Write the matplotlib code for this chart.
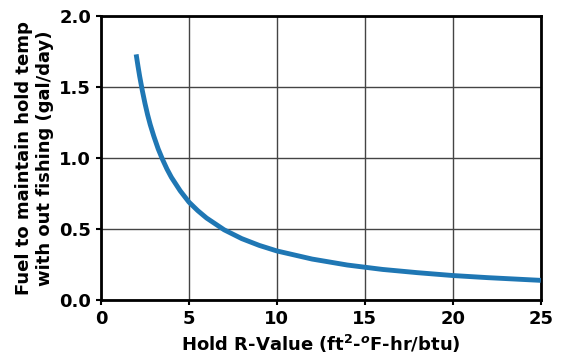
import matplotlib.pyplot as plt

# values
r_value = [2.0, 2.1, 2.2, 2.35, 2.5, 2.65, 2.8, 3.0, 3.25, 3.5, 3.75, 4.0, 4.5, 5.0, 5.5,
           6.0, 7.0, 8.0, 9.0, 10.0, 12.0, 14.0, 16.0, 18.0, 20.0, 22.0, 25.0]
fuel = [1.73, 1.65, 1.575, 1.475, 1.385, 1.305, 1.235, 1.155, 1.065, 0.99, 0.923, 0.865,
        0.77, 0.69, 0.63, 0.578, 0.495, 0.433, 0.385, 0.346, 0.289, 0.247, 0.216, 0.193,
        0.173, 0.158, 0.139]

plt.rcParams['font.weight'] = 'bold'
plt.rcParams['axes.labelweight'] = 'bold'

fig = plt.figure(figsize=(5.61, 3.56), dpi=100)
ax = fig.add_axes([0.18, 0.157, 0.784, 0.798])

ax.plot(r_value, fuel, color='#1f77b4', linewidth=3.5, zorder=3,
        solid_capstyle='butt')

ax.set_xlim(0, 25)
ax.set_ylim(0, 2.0)
ax.set_xticks([0, 5, 10, 15, 20, 25])
ax.set_yticks([0.0, 0.5, 1.0, 1.5, 2.0])
ax.grid(True, color='#444444', linewidth=1)
ax.tick_params(labelsize=13, width=1.5)
for s in ax.spines.values():
    s.set_linewidth(2)

ax.set_xlabel('Hold R-Value (ft$^2$-$^o$F-hr/btu)', fontsize=13)
ax.set_ylabel('Fuel to maintain hold temp\nwith out fishing (gal/day)', fontsize=13)

fig.savefig('out.png', dpi=100)
